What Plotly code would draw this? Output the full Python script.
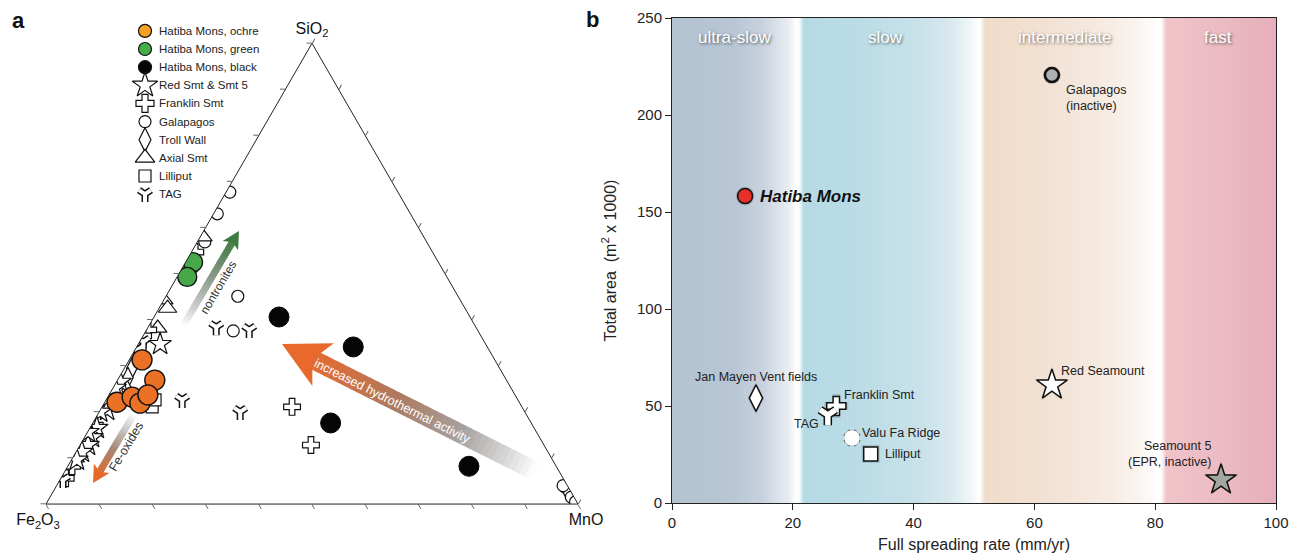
import math
import plotly.graph_objects as go

W, H = 1292, 559
FONT = "Arial, Liberation Sans, Helvetica, sans-serif"

# ---------------- Panel a : ternary data (SiO2, Fe2O3, MnO ; %) ----------------
ochre = [(31.3, 66.3, 2.4), (26.9, 66.1, 7.0), (22.1, 75.6, 2.3), (23.2, 72.2, 4.6),
         (21.9, 71.4, 6.7), (23.7, 69.0, 7.3)]
green = [(51.9, 47.0, 1.1), (52.5, 46.1, 1.4), (49.3, 48.8, 1.9)]
black = [(40.6, 35.9, 23.5), (34.1, 25.2, 40.7), (17.6, 37.7, 44.7), (8.2, 16.4, 75.4)]
red_smt = [(34.7, 61.2, 4.1), (26.5, 72.8, 0.7), (25.2, 74.4, 0.4), (20.4, 78.3, 1.3),
           (20.0, 79.8, 0.2), (16.5, 82.2, 1.3), (14.5, 84.1, 1.4), (12.8, 85.7, 1.5),
           (11.3, 87.6, 1.1), (9.6, 89.4, 1.0), (23.0, 77.0, 0.0), (15.6, 84.3, 0.1)]
franklin = [(54.7, 44.6, 0.7), (37.8, 61.9, 0.3), (36.5, 63.5, 0.0), (21.1, 43.2, 35.7),
            (12.8, 43.8, 43.4), (17.1, 82.3, 0.6), (5.6, 93.5, 0.9), (8.2, 91.0, 0.8)]
galapagos = [(67.7, 31.6, 0.7), (63.0, 36.3, 0.7), (56.9, 41.7, 1.4), (45.1, 41.4, 13.5),
             (37.6, 46.0, 16.4), (3.5, 0.5, 96.0), (2.5, 0.3, 97.2), (1.5, 0.5, 98.0),
             (0.5, 0.2, 99.3), (4.0, 0.8, 95.2)]
troll = [(29.5, 69.1, 1.4), (27.4, 70.9, 1.7), (24.7, 72.4, 2.9)]
axial = [(58.0, 41.5, 0.5), (44.3, 55.7, 0.0), (42.5, 55.9, 1.6), (38.2, 59.9, 1.9),
         (10.0, 89.5, 0.5), (13.9, 85.7, 0.4)]
lilliput = [(21.1, 69.5, 9.4), (23.0, 76.1, 0.9), (22.6, 68.2, 9.2)]
tag = [(38.4, 48.8, 12.8), (37.8, 42.9, 19.3), (22.6, 63.1, 14.3), (20.0, 53.5, 26.5),
       (35.2, 64.1, 0.7), (33.4, 66.2, 0.4), (5.2, 94.2, 0.6)]

legend_labels = ["Hatiba Mons, ochre", "Hatiba Mons, green", "Hatiba Mons, black",
                 "Red Smt & Smt 5", "Franklin Smt", "Galapagos", "Troll Wall",
                 "Axial Smt", "Lilliput", "TAG"]

# ---------------- Panel b data ----------------
sites = ["Hatiba Mons", "Galapagos<br>(inactive)", "Jan Mayen Vent fields", "Franklin Smt",
         "TAG", "Valu Fa Ridge", "Lilliput", "Red Seamount", "Seamount 5<br>(EPR, inactive)"]
spreading_rate = [12.1, 62.9, 13.9, 27.2, 25.8, 29.8, 32.9, 62.9, 90.9]
total_area = [158.2, 220.6, 54.1, 50.0, 45.4, 33.5, 25.3, 60.8, 11.9]

band_names = ["ultra-slow", "slow", "intermediate", "fast"]
band_centers = [10.4, 35.3, 65.0, 90.4]

x_ticks = [0, 20, 40, 60, 80, 100]
y_ticks = [0, 50, 100, 150, 200, 250]

fig = go.Figure()


def P(x, y):
    return x / W, 1 - y / H


def interp(stops, t):
    t = max(stops[0][0], min(stops[-1][0], t))
    for (t0, c0), (t1, c1) in zip(stops[:-1], stops[1:]):
        if t0 <= t <= t1:
            f = 0 if t1 == t0 else (t - t0) / (t1 - t0)
            c = [round(c0[k] + (c1[k] - c0[k]) * f) for k in range(3)]
            return "rgb(%d,%d,%d)" % tuple(c)
    c = stops[-1][1]
    return "rgb(%d,%d,%d)" % tuple(c)


# ---------------- ternary traces ----------------
def tern(pts, symbol, size, color, lc="#111", lw=1.2):
    fig.add_trace(go.Scatterternary(
        a=[p[0] for p in pts], b=[p[1] for p in pts], c=[p[2] for p in pts],
        mode="markers", hoverinfo="skip", showlegend=False,
        marker=dict(symbol=symbol, size=size, color=color, line=dict(color=lc, width=lw))))


tern(galapagos, "circle", 12, "white")
tern(axial, "triangle-up", 16, "white")
tern(lilliput, "square", 12, "white")
tern(troll, "diamond-tall", 15, "white")
tern(franklin, "cross", 14, "white")
tern(tag, "y-down", 10, "#111", "#111", 7)
tern(tag, "y-down", 10, "white", "white", 4)
tern(red_smt, "star", 17, "white")
tern(green, "circle", 19, "#46a848", "#111", 1.4)
tern(ochre, "circle", 20, "#ea7126", "#111", 1.4)
tern(black, "circle", 20, "#050505", "#050505", 1)

# ---------------- legend (panel a) ----------------
leg_styles = [
    dict(symbol="circle", size=13, color="#f7a024"),
    dict(symbol="circle", size=13, color="#45ae4b"),
    dict(symbol="circle", size=13, color="#050505"),
    dict(symbol="star", size=19, color="white"),
    dict(symbol="cross", size=15, color="white"),
    dict(symbol="circle", size=12, color="white"),
    dict(symbol="diamond-tall", size=17, color="white"),
    dict(symbol="triangle-up", size=17, color="white"),
    dict(symbol="square", size=12, color="white"),
    None,
]
for i, st in enumerate(leg_styles):
    if st is None:
        for lw, col in ((7, "#111"), (4, "white")):
            fig.add_trace(go.Scatter(x=[0], y=[i], xaxis="x2", yaxis="y2", mode="markers",
                                     hoverinfo="skip", showlegend=False,
                                     marker=dict(symbol="y-down", size=10, color=col,
                                                 line=dict(color=col, width=lw))))
    else:
        fig.add_trace(go.Scatter(x=[0], y=[i], xaxis="x2", yaxis="y2", mode="markers",
                                 hoverinfo="skip", showlegend=False,
                                 marker=dict(symbol=st["symbol"], size=st["size"], color=st["color"],
                                             line=dict(color="#111", width=1.2))))
    fig.add_annotation(x=157 / W, xref="paper", y=i, yref="y2", text=legend_labels[i],
                       showarrow=False, xanchor="left", yanchor="middle",
                       font=dict(size=11.5, color="#222", family=FONT))

# ---------------- panel b markers ----------------
b_styles = [
    dict(symbol="circle", size=15, color="#e8302a", lw=1.5),
    dict(symbol="circle", size=14, color="#b0b0b0", lw=2.6),
    dict(symbol="diamond-tall", size=19, color="white", lw=1.5),
    dict(symbol="cross", size=16, color="white", lw=1.5),
    dict(symbol="ydown", size=13),
    dict(symbol="asterisk", size=13),
    dict(symbol="square", size=14, color="white", lw=1.5),
    dict(symbol="star", size=23, color="white", lw=1.5),
    dict(symbol="star", size=23, color="#a2a7a2", lw=1.5),
]
for i, st in enumerate(b_styles):
    xs, ys = [spreading_rate[i]], [total_area[i]]
    if st["symbol"] in ("ydown", "asterisk"):
        sym = "y-down" if st["symbol"] == "ydown" else "asterisk-open"
        for lw, col in ((8.5, "#111"), (5.5, "white")):
            fig.add_trace(go.Scatter(x=xs, y=ys, mode="markers", hoverinfo="skip", showlegend=False,
                                     marker=dict(symbol=sym, size=st["size"], color=col,
                                                 line=dict(color=col, width=lw))))
    else:
        fig.add_trace(go.Scatter(x=xs, y=ys, mode="markers", hoverinfo="skip", showlegend=False,
                                 marker=dict(symbol=st["symbol"], size=st["size"] + 4,
                                             color="rgba(0,0,0,0.13)", line=dict(width=0))))
        fig.add_trace(go.Scatter(x=xs, y=ys, mode="markers", hoverinfo="skip", showlegend=False,
                                 marker=dict(symbol=st["symbol"], size=st["size"], color=st["color"],
                                             line=dict(color="#111", width=st["lw"]))))

# labels for panel b (offsets in px)
lab_pos = [
    dict(xanchor="left", yanchor="middle", xshift=13, yshift=0),
    dict(xanchor="left", yanchor="top", xshift=12, yshift=-6),
    dict(xanchor="center", yanchor="middle", xshift=0, yshift=21),
    dict(xanchor="left", yanchor="middle", xshift=6, yshift=11),
    dict(xanchor="right", yanchor="middle", xshift=-7, yshift=-9),
    dict(xanchor="left", yanchor="middle", xshift=8, yshift=5),
    dict(xanchor="left", yanchor="middle", xshift=12, yshift=0),
    dict(xanchor="left", yanchor="middle", xshift=7, yshift=14),
    dict(xanchor="right", yanchor="bottom", xshift=-8, yshift=9),
]
for i, lp in enumerate(lab_pos):
    if i == 0:
        txt = "<b><i>%s</i></b>" % sites[i]
        fnt = dict(size=17, color="#111", family=FONT)
    else:
        txt = sites[i]
        fnt = dict(size=12.5, color="#222", family=FONT)
    fig.add_annotation(x=spreading_rate[i], y=total_area[i], xref="x", yref="y", text=txt,
                       showarrow=False, align="right" if lp["xanchor"] == "right" else "left",
                       font=fnt, **lp)

for name, cx in zip(band_names, band_centers):
    fig.add_annotation(x=cx, y=240, xref="x", yref="y", text=name, showarrow=False,
                       xanchor="center", yanchor="middle",
                       font=dict(size=17, color="white", family=FONT,
                                 shadow="1px 1px 3px rgba(0,0,0,0.6)"))

# ---------------- panel b background gradient bands ----------------
bg_stops = [
    (0.0, (180, 195, 209)), (10.0, (184, 198, 212)), (15.0, (200, 210, 222)),
    (19.6, (236, 239, 243)), (20.5, (255, 255, 255)), (21.0, (255, 255, 255)),
    (21.8, (182, 218, 228)), (30.0, (186, 220, 230)), (40.0, (198, 225, 233)),
    (46.0, (215, 232, 238)), (50.0, (245, 249, 250)), (50.6, (255, 255, 255)),
    (51.0, (255, 255, 255)), (51.8, (240, 220, 202)), (60.0, (241, 224, 209)),
    (70.0, (245, 233, 223)), (77.0, (250, 243, 238)), (80.5, (255, 255, 255)),
    (81.0, (255, 255, 255)), (81.8, (240, 196, 200)), (90.0, (236, 188, 196)),
    (100.0, (230, 175, 186)),
]
step = 0.25
n = int(100 / step)
for k in range(n):
    x0 = k * step
    fig.add_shape(type="rect", xref="x", yref="y domain", x0=x0, x1=min(100, x0 + 2 * step),
                  y0=0, y1=1, fillcolor=interp(bg_stops, x0 + step / 2), line=dict(width=0),
                  layer="below")


# ---------------- gradient arrows (panel a) ----------------
def arrow(tail, tip, shaft_w, head_len, head_hw, notch, stops, nseg=40):
    dx, dy = tip[0] - tail[0], tip[1] - tail[1]
    L = math.hypot(dx, dy)
    ux, uy = dx / L, dy / L
    nx, ny = -uy, ux
    send = L - notch + 1
    for i in range(nseg):
        s0 = send * i / nseg
        s1 = min(send, send * (i + 1) / nseg + 0.7)
        t = (s0 + s1) / 2 / L
        x0, y0 = P(tail[0] + ux * s0, tail[1] + uy * s0)
        x1, y1 = P(tail[0] + ux * s1, tail[1] + uy * s1)
        fig.add_shape(type="line", xref="paper", yref="paper", x0=x0, y0=y0, x1=x1, y1=y1,
                      line=dict(color=interp(stops, t), width=shaft_w), layer="below")
    pts = [tip,
           (tip[0] - ux * head_len + nx * head_hw, tip[1] - uy * head_len + ny * head_hw),
           (tip[0] - ux * notch, tip[1] - uy * notch),
           (tip[0] - ux * head_len - nx * head_hw, tip[1] - uy * head_len - ny * head_hw)]
    path = "M " + " L ".join("%.5f %.5f" % P(*p) for p in pts) + " Z"
    fig.add_shape(type="path", xref="paper", yref="paper", path=path,
                  fillcolor=interp(stops, 1.0), line=dict(width=0), layer="below")


arrow((535, 471), (282, 344), 19, 46, 24, 34,
      [(0, (255, 255, 255)), (0.1, (220, 220, 220)), (0.3, (165, 160, 157)),
       (0.55, (172, 122, 96)), (0.8, (218, 110, 58)), (1, (232, 105, 43))])
arrow((183, 326), (239, 231), 7, 17, 9, 13,
      [(0, (255, 255, 255)), (0.2, (205, 205, 205)), (0.5, (140, 155, 140)),
       (0.8, (82, 128, 82)), (1, (60, 123, 61))])
arrow((134, 414), (93, 483), 7, 17, 9, 13,
      [(0, (255, 255, 255)), (0.2, (205, 205, 205)), (0.5, (165, 135, 120)),
       (0.8, (212, 112, 60)), (1, (228, 106, 42))])

for txt, (x, y), ang, col, sz in [
    ("nontronites", (218, 288), -59.4, "#333", 12),
    ("Fe-oxides", (126, 447), -59.0, "#333", 12.5),
    ("increased hydrothermal activity", (392, 401), 26.7, "white", 12.5),
]:
    xx, yy = P(x, y)
    fig.add_annotation(x=xx, y=yy, xref="paper", yref="paper", text=txt, showarrow=False,
                       xanchor="center", yanchor="middle",
                       textangle=ang, font=dict(size=sz, color=col, family=FONT))

# panel letters
for txt, (x, y) in [("a", (18, 20)), ("b", (592, 19))]:
    xx, yy = P(x, y)
    fig.add_annotation(x=xx, y=yy, xref="paper", yref="paper", text="<b>%s</b>" % txt,
                       showarrow=False, xanchor="center", yanchor="middle",
                       font=dict(size=22, color="#111", family=FONT))

tern_axis = dict(showgrid=False, showticklabels=False, ticks="outside", ticklen=5,
                 tickcolor="#666", tickwidth=1, dtick=10, tick0=0, linecolor="#222",
                 linewidth=1, showline=True, min=0)
tfont = dict(size=16, color="#111", family=FONT)

fig.update_layout(
    width=W, height=H, margin=dict(l=0, r=0, t=0, b=0, pad=0),
    paper_bgcolor="white", plot_bgcolor="rgba(0,0,0,0)",
    font=dict(family=FONT, color="#222"),
    showlegend=False,
    ternary=dict(
        domain=dict(x=[46 / W, 578 / W], y=[0.0604, 0.9604]), sum=100,
        bgcolor="rgba(0,0,0,0)",
        aaxis=dict(title=dict(text="SiO<sub>2</sub>", font=tfont), **tern_axis),
        baxis=dict(title=dict(text="Fe<sub>2</sub>O<sub>3</sub>", font=tfont), **tern_axis),
        caxis=dict(title=dict(text="MnO", font=tfont), **tern_axis),
    ),
    xaxis=dict(domain=[672 / W, 1276 / W], range=[0, 100], tickvals=x_ticks, ticks="outside",
               ticklen=6, tickcolor="#222", showline=True, mirror=True, linecolor="#222",
               linewidth=1, showgrid=False, zeroline=False, automargin=False,
               tickfont=dict(size=15, color="#222"),
               title=dict(text="Full spreading rate (mm/yr)", font=dict(size=16, color="#222"),
                          standoff=8)),
    yaxis=dict(domain=[1 - 503 / H, 1 - 18 / H], range=[0, 250], tickvals=y_ticks, ticks="outside",
               ticklen=6, tickcolor="#222", showline=True, mirror=True, linecolor="#222",
               linewidth=1, showgrid=False, zeroline=False, automargin=False,
               tickfont=dict(size=15, color="#222"),
               title=dict(text="Total area  (m<sup>2</sup> x 1000)", font=dict(size=16, color="#222"),
                          standoff=16)),
    xaxis2=dict(domain=[100 / W, 200 / W], range=[-45, 55], visible=False, fixedrange=True),
    yaxis2=dict(domain=[1 - 205 / H, 1 - 20 / H], range=[9.6, -0.6], visible=False, fixedrange=True),
)

fig.write_html("out.html", config={"displayModeBar": False},
               post_script="document.body.style.margin='0';document.body.style.overflow='hidden';")
